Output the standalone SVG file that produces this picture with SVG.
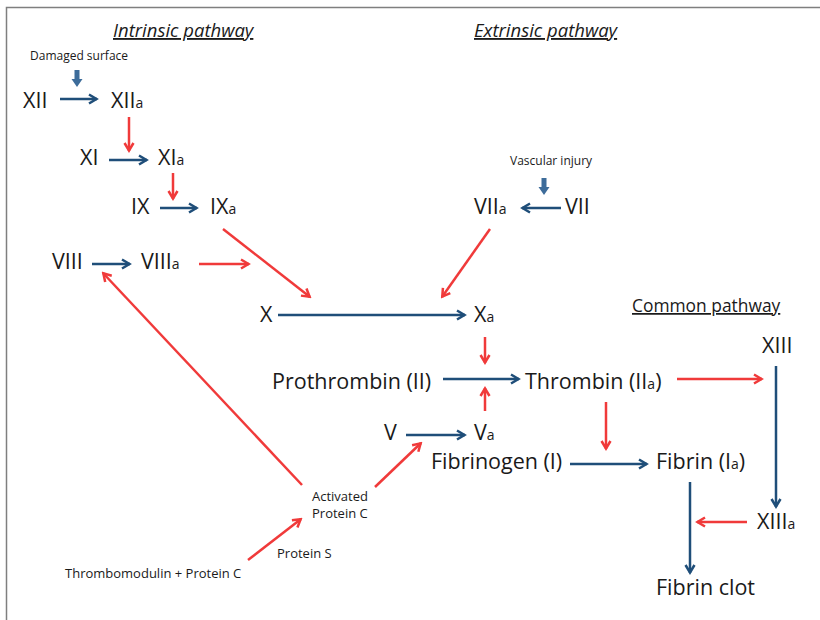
<svg xmlns="http://www.w3.org/2000/svg" width="820" height="620" viewBox="0 0 820 620">
<defs>
<style>
.t{font-family:"Open Sans","Liberation Sans",sans-serif;fill:#1a1a1a}
.big{font-size:21.5px}
.sm{font-size:12px}
.md{font-size:13px}
.hd{font-size:18.5px;font-style:italic;text-decoration:underline}
.hc{font-size:17.4px;text-decoration:underline}
.s{font-size:14px}
.b{stroke:#1f4e79;stroke-width:2.5;fill:none;marker-end:url(#ab)}
.r{stroke:#f03a3a;stroke-width:2.5;fill:none;marker-end:url(#ar)}
.blk{fill:#3d6c9a}
</style>
<marker id="ab" markerUnits="userSpaceOnUse" markerWidth="14" markerHeight="14" refX="12" refY="7" orient="auto" viewBox="0 0 14 14">
<path d="M4,2.5 L11.5,7 L4,11.5" fill="none" stroke="#1f4e79" stroke-width="2.5"/>
</marker>
<marker id="ar" markerUnits="userSpaceOnUse" markerWidth="14" markerHeight="14" refX="12" refY="7" orient="auto" viewBox="0 0 14 14">
<path d="M4,2.5 L11.5,7 L4,11.5" fill="none" stroke="#f03a3a" stroke-width="2.5"/>
</marker>
</defs>
<rect width="820" height="620" fill="#fff"/>
<path d="M6.5,620 V7.5 H820" fill="none" stroke="#7f7f7f" stroke-width="1.5"/>

<g id="headers">
<text class="t hd" x="113" y="37">Intrinsic pathway</text>
<text class="t hd" x="474" y="37">Extrinsic pathway</text>
<text class="t hc" x="632" y="312">Common pathway</text>
</g>

<g id="damaged-surface">
<text class="t sm" x="30" y="60">Damaged surface</text>
<polygon class="blk" points="74.5,70 79.5,70 79.5,79 82.5,79 77,87 71.5,79 74.5,79"/>
</g>
<g id="vascular-injury">
<text class="t sm" x="510" y="165">Vascular injury</text>
<polygon class="blk" points="541.5,178 546.5,178 546.5,187 549.5,187 544,195 538.5,187 541.5,187"/>
</g>

<g id="XII"><text class="t big" x="23" y="108">XII</text></g>
<g id="XIIa"><text class="t big" x="111" y="108">XII<tspan class="s">a</tspan></text></g>
<g id="XI"><text class="t big" x="80" y="165">XI</text></g>
<g id="XIa"><text class="t big" x="158" y="165">XI<tspan class="s">a</tspan></text></g>
<g id="IX"><text class="t big" x="131" y="214">IX</text></g>
<g id="IXa"><text class="t big" x="210" y="214">IX<tspan class="s">a</tspan></text></g>
<g id="VIII"><text class="t big" x="52" y="269">VIII</text></g>
<g id="VIIIa"><text class="t big" x="141" y="269">VIII<tspan class="s">a</tspan></text></g>
<g id="X"><text class="t big" x="260" y="322">X</text></g>
<g id="Xa"><text class="t big" x="474" y="322">X<tspan class="s">a</tspan></text></g>
<g id="VIIa"><text class="t big" x="474" y="214">VII<tspan class="s">a</tspan></text></g>
<g id="VII"><text class="t big" x="565" y="214">VII</text></g>
<g id="Prothrombin"><text class="t big" x="272" y="389">Prothrombin (II)</text></g>
<g id="Thrombin"><text class="t big" x="525" y="389">Thrombin (II<tspan class="s">a</tspan>)</text></g>
<g id="V"><text class="t big" x="384" y="440">V</text></g>
<g id="Va"><text class="t big" x="474" y="440">V<tspan class="s">a</tspan></text></g>
<g id="Fibrinogen"><text class="t big" x="431" y="469">Fibrinogen (I)</text></g>
<g id="Fibrin"><text class="t big" x="656" y="469">Fibrin (I<tspan class="s">a</tspan>)</text></g>
<g id="XIII"><text class="t big" x="762" y="353">XIII</text></g>
<g id="XIIIa"><text class="t big" x="757" y="529">XIII<tspan class="s">a</tspan></text></g>
<g id="FibrinClot"><text class="t big" x="656" y="595">Fibrin clot</text></g>
<g id="APC"><text class="t md" x="312" y="501">Activated</text><text class="t md" x="312" y="518">Protein C</text></g>
<g id="ProteinS"><text class="t md" x="277" y="558">Protein S</text></g>
<g id="TM"><text class="t md" x="65" y="578">Thrombomodulin + Protein C</text></g>

<g id="connectors">
<line class="b" x1="60" y1="99" x2="97" y2="99"/>
<line class="r" x1="129" y1="117" x2="129" y2="151"/>
<line class="b" x1="109" y1="160" x2="147" y2="160"/>
<line class="r" x1="173" y1="173" x2="173" y2="199"/>
<line class="b" x1="160" y1="208" x2="197" y2="208"/>
<line class="b" x1="92" y1="264" x2="130" y2="264"/>
<line class="r" x1="199" y1="264" x2="249" y2="264"/>
<line class="r" x1="223" y1="229" x2="310" y2="297"/>
<line class="b" x1="278" y1="315" x2="465" y2="315"/>
<line class="b" x1="561" y1="208" x2="522" y2="208"/>
<line class="r" x1="490" y1="229" x2="442" y2="297"/>
<line class="r" x1="485" y1="337" x2="485" y2="363"/>
<line class="b" x1="443" y1="379" x2="519" y2="379"/>
<line class="r" x1="485" y1="411" x2="485" y2="388"/>
<line class="b" x1="406" y1="435" x2="465" y2="435"/>
<line class="r" x1="677" y1="379" x2="762" y2="379"/>
<line class="r" x1="606" y1="402" x2="606" y2="449"/>
<line class="b" x1="776" y1="366" x2="776" y2="507"/>
<line class="b" x1="570" y1="464" x2="647" y2="464"/>
<line class="r" x1="747" y1="522" x2="697" y2="522"/>
<line class="b" x1="690" y1="482" x2="690" y2="573"/>
<line class="r" x1="302" y1="485" x2="103" y2="273"/>
<line class="r" x1="375" y1="487" x2="421" y2="443"/>
<line class="r" x1="248" y1="560" x2="301" y2="519"/>
</g>
</svg>
